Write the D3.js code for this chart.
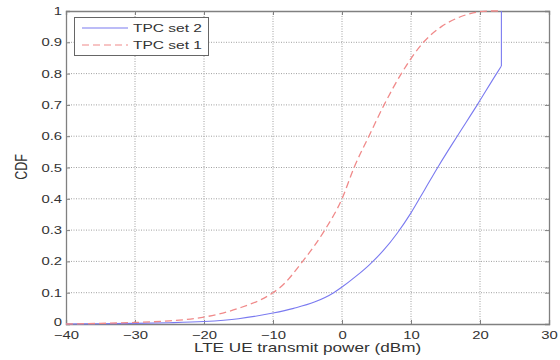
<!DOCTYPE html>
<html><head><meta charset="utf-8">
<script src="https://cdn.jsdelivr.net/npm/d3@7"></script>
<style>body{margin:0;background:#fff}svg{display:block}text{font-family:"Liberation Sans",Arial,sans-serif}</style>
</head><body><svg id="c" width="560" height="360"></svg>
<script>
const xTicks = [-40,-30,-20,-10,0,10,20,30];
const yTicks = [0,0.1,0.2,0.3,0.4,0.5,0.6,0.7,0.8,0.9,1];
const yTickLabels = ["0","0.1","0.2","0.3","0.4","0.5","0.6","0.7","0.8","0.9","1"];
const seriesNames = ["TPC set 2","TPC set 1"];
const xTitle = "LTE UE transmit power (dBm)";
const yTitle = "CDF";
// TPC set 2 (blue solid); last point is the jump to 1 at the power cap
const set2X = [-40,-35,-30,-25,-20,-15,-10,-7,-4,-1.2,0,2,4,6,8,10,12,14,16.7,19.6,22.4,23.1,23.1];
const set2Y = [0,0.001,0.002,0.004,0.008,0.017,0.035,0.05,0.07,0.1,0.118,0.152,0.19,0.235,0.29,0.355,0.43,0.505,0.6,0.7,0.8,0.824,1];
// TPC set 1 (red dashed)
const set1X = [-40,-35,-30,-25,-20,-15,-10,-8.9,-5.7,-2.5,0,1.75,3.9,6.1,8.6,11.8,14.4,17,19,21.3,23.1];
const set1Y = [0,0.002,0.005,0.01,0.022,0.05,0.1,0.118,0.2,0.3,0.4,0.5,0.6,0.7,0.8,0.9,0.95,0.98,0.994,1,1];

const SX = 1.35; // horizontal text stretch seen in the reference
const svg = d3.select("#c");
const L=66,R=549,T=11,B=324;
const x = d3.scaleLinear().domain([-40,30]).range([L,R]);
const y = d3.scaleLinear().domain([0,1]).range([B,T]);

// grid
const g = svg.append("g");
g.selectAll(".gx").data(xTicks.slice(1,-1)).enter().append("line")
 .attr("x1",d=>x(d)).attr("x2",d=>x(d)).attr("y1",T).attr("y2",B)
 .attr("stroke","#a0a0a0").attr("stroke-width",1).attr("stroke-dasharray","1,1.5");
g.selectAll(".gy").data(yTicks.slice(1,-1)).enter().append("line")
 .attr("y1",d=>y(d)).attr("y2",d=>y(d)).attr("x1",L).attr("x2",R)
 .attr("stroke","#a0a0a0").attr("stroke-width",1).attr("stroke-dasharray","1,1.5");

// axes
const xAxis = d3.axisBottom(x).tickValues(xTicks).tickSize(-4).tickPadding(7).tickFormat(d3.format("d"));
const yAxis = d3.axisLeft(y).tickValues(yTicks).tickSize(-4).tickPadding(4).tickFormat((d,i)=>yTickLabels[i]);
const xa = svg.append("g").attr("transform",`translate(0,${B})`).call(xAxis);
const ya = svg.append("g").attr("transform",`translate(${L},0)`).call(yAxis);
const xt = svg.append("g").attr("transform",`translate(0,${T})`).call(d3.axisTop(x).tickValues(xTicks).tickSize(-4).tickFormat(""));
const yr = svg.append("g").attr("transform",`translate(${R},0)`).call(d3.axisRight(y).tickValues(yTicks).tickSize(-4).tickFormat(""));
[xa,ya,xt,yr].forEach(a=>{
  a.selectAll("path").attr("stroke","#808080").attr("stroke-width",1.3);
  a.selectAll("line").attr("stroke","#808080");
  a.selectAll("text").attr("fill","#333").style("font-size","11px").attr("transform",`scale(${SX},1)`);
});
xa.selectAll("text").attr("dy","0.7em");
ya.selectAll("text").attr("x",-4/SX);
ya.selectAll("text").filter(d=>d===0).attr("dy","0.15em");

// lines
const lineM = d3.line().x(d=>x(d[0])).y(d=>y(d[1])).curve(d3.curveMonotoneX);
const lineL = d3.line().x(d=>x(d[0])).y(d=>y(d[1]));
const s2 = d3.zip(set2X,set2Y);
svg.append("path").datum(s2.slice(0,-1)).attr("d",lineM)
 .attr("fill","none").attr("stroke","#7a7af0").attr("stroke-width",1.1);
svg.append("path").datum(s2.slice(-2)).attr("d",lineL)
 .attr("fill","none").attr("stroke","#7a7af0").attr("stroke-width",1.1);
svg.append("path").datum(d3.zip(set1X,set1Y)).attr("d",lineM)
 .attr("fill","none").attr("stroke","#f08a8a").attr("stroke-width",1.3).attr("stroke-dasharray","7,4");

// labels
svg.append("text").attr("transform",`translate(${(L+R)/2},352) scale(${SX},1)`).attr("text-anchor","middle")
 .style("font-size","12.7px").attr("fill","#333").text(xTitle);
svg.append("text").attr("transform",`translate(27,167) rotate(-90) scale(1,${SX})`).attr("text-anchor","middle")
 .style("font-size","12.5px").attr("fill","#333").text(yTitle);

// legend
const lg = svg.append("g");
lg.append("rect").attr("x",74.5).attr("y",17.5).attr("width",134).attr("height",38)
 .attr("fill","#fff").attr("stroke","#666");
const colors=["#7a7af0","#f08a8a"], dashes=[null,"7,4"];
seriesNames.forEach((n,i)=>{
  const yy = 28+i*17;
  lg.append("line").attr("x1",82).attr("x2",128).attr("y1",yy).attr("y2",yy)
   .attr("stroke",colors[i]).attr("stroke-width",1.2).attr("stroke-dasharray",dashes[i]);
  lg.append("text").attr("transform",`translate(133,${yy+4}) scale(${SX},1)`)
   .style("font-size","11.5px").attr("fill","#333").text(n);
});
</script></body></html>
